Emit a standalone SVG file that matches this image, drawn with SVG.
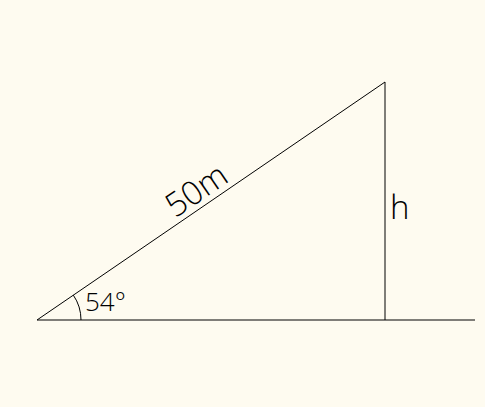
<svg xmlns="http://www.w3.org/2000/svg" width="485" height="407" viewBox="0 0 485 407">
<style>
.ln{stroke:#000;stroke-width:1;fill:none}
.t{font-family:"Open Sans","DejaVu Sans",sans-serif;font-weight:300;fill:#000}
</style>
<rect width="485" height="407" fill="#fefbf0"/>
<g id="connectors">
<line class="ln" x1="37" y1="320" x2="475" y2="320"/>
<line class="ln" x1="37" y1="320" x2="385" y2="82"/>
<line class="ln" x1="385" y1="82" x2="385" y2="320"/>
<path class="ln" d="M 81 320 A 44 44 0 0 0 73.3 295.1"/>
</g>
<g id="label-50m"><text class="t" font-size="33" text-anchor="middle" transform="translate(205,203) rotate(-34.4)" y="-4">50m</text></g>
<g id="label-h"><text class="t" font-size="33" x="390" y="219">h</text></g>
<g id="label-angle"><text class="t" font-size="26" x="85" y="311">54°</text></g>
</svg>
